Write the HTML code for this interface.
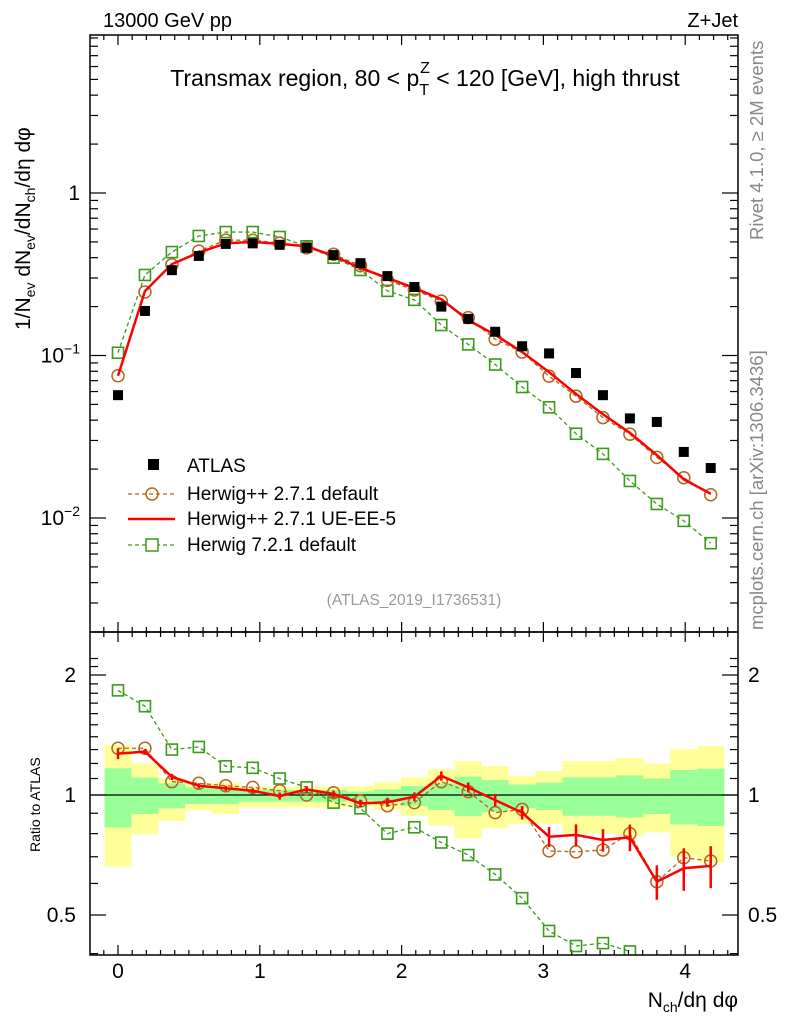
<!DOCTYPE html>
<html><head><meta charset="utf-8"><style>
body{margin:0;background:#fff}
svg text{font-family:"Liberation Sans",sans-serif}
</style></head><body>
<svg id="c" width="786" height="1024" xmlns="http://www.w3.org/2000/svg">
<rect width="786" height="1024" fill="#fff"/>
<g id="bands"></g>
<g id="grid"></g>
<g id="series"></g>
<rect x="90" y="35" width="648" height="597" fill="none" stroke="#000" stroke-width="1.5"/>
<rect x="90" y="632" width="648" height="323" fill="none" stroke="#000" stroke-width="1.5"/>
<text x="103" y="27" font-size="20">13000 GeV pp</text>
<text x="738" y="27" font-size="20" text-anchor="end">Z+Jet</text>
<text x="425" y="86" font-size="23" text-anchor="middle">Transmax region, 80 &lt; p<tspan font-size="16" dy="9">T</tspan><tspan font-size="16" dx="-9" dy="-22">Z</tspan><tspan dy="13"> &lt; 120 [GeV], high thrust</tspan></text>
<text x="414" y="605" font-size="15.5" fill="#999" text-anchor="middle">(ATLAS_2019_I1736531)</text>
<text transform="translate(763,240) rotate(-90)" font-size="18.5" fill="#888">Rivet 4.1.0, ≥ 2M events</text>
<text transform="translate(763,630) rotate(-90)" font-size="18.5" fill="#888">mcplots.cern.ch [arXiv:1306.3436]</text>
<text transform="translate(30,330) rotate(-90)" font-size="21">1/N<tspan font-size="14" dy="5">ev</tspan><tspan dy="-5"> dN</tspan><tspan font-size="14" dy="5">ev</tspan><tspan dy="-5">/dN</tspan><tspan font-size="14" dy="5">ch</tspan><tspan dy="-5">/dη dφ</tspan></text>
<text transform="translate(40,852) rotate(-90)" font-size="14">Ratio to ATLAS</text>
<text x="738" y="1007" font-size="21" text-anchor="end">N<tspan font-size="14" dy="5">ch</tspan><tspan dy="-5">/dη dφ</tspan></text>
<g id="legend">
<rect x="148" y="459" width="11" height="11" fill="#000"/>
<text x="187" y="472" font-size="19">ATLAS</text>
<line x1="128" y1="494" x2="175" y2="494" stroke="#b5651d" stroke-dasharray="4,3" stroke-width="1.3"/>
<circle cx="152" cy="494" r="6" fill="none" stroke="#b5651d" stroke-width="1.5"/>
<text x="187" y="500" font-size="19">Herwig++ 2.7.1 default</text>
<line x1="128" y1="519" x2="175" y2="519" stroke="#f00" stroke-width="2.5"/>
<text x="187" y="525" font-size="19">Herwig++ 2.7.1 UE-EE-5</text>
<line x1="128" y1="545" x2="175" y2="545" stroke="#3a9a1a" stroke-dasharray="4,3" stroke-width="1.3"/>
<rect x="146" y="539" width="12" height="12" fill="#fff" stroke="#3a9a1a" stroke-width="1.5"/>
<text x="187" y="551" font-size="19">Herwig 7.2.1 default</text>
</g>
</svg>
<script>
const xVals=[0,0.19,0.38,0.57,0.76,0.95,1.14,1.33,1.52,1.71,1.90,2.09,2.28,2.47,2.66,2.85,3.04,3.23,3.42,3.61,3.80,3.99,4.18];
const atlas=[0.057,0.188,0.335,0.41,0.486,0.49,0.48,0.46,0.415,0.37,0.308,0.264,0.20,0.168,0.14,0.114,0.103,0.078,0.057,0.041,0.039,0.0255,0.0203];
const hppDef=[0.075,0.246,0.362,0.439,0.513,0.512,0.492,0.46,0.42,0.357,0.29,0.253,0.216,0.171,0.126,0.105,0.0746,0.0562,0.0415,0.0328,0.0236,0.0177,0.0139];
const ueee5=[0.075,0.249,0.365,0.43,0.49,0.50,0.486,0.47,0.41,0.345,0.30,0.26,0.222,0.165,0.134,0.105,0.079,0.058,0.0435,0.0334,0.0244,0.0173,0.0141];
const h7=[0.104,0.313,0.433,0.544,0.575,0.575,0.536,0.47,0.40,0.336,0.25,0.22,0.154,0.117,0.088,0.064,0.048,0.033,0.0248,0.0169,0.0122,0.0096,0.0070];
const rHppDef=[1.31,1.31,1.08,1.07,1.055,1.045,1.025,1.0,1.013,0.966,0.94,0.957,1.08,1.02,0.903,0.92,0.724,0.72,0.728,0.80,0.606,0.696,0.683];
const rUeee5=[1.27,1.285,1.11,1.055,1.04,1.025,0.994,1.033,1.006,0.953,0.959,0.99,1.116,1.045,0.971,0.903,0.786,0.794,0.771,0.783,0.606,0.655,0.664];
const rUeee5Err=[0.04,0.02,0.02,0.015,0.015,0.015,0.02,0.02,0.02,0.02,0.025,0.025,0.03,0.03,0.035,0.035,0.045,0.05,0.05,0.06,0.06,0.08,0.08];
const rH7=[1.83,1.67,1.30,1.32,1.18,1.17,1.10,1.045,0.957,0.926,0.80,0.83,0.76,0.707,0.632,0.551,0.456,0.418,0.425,0.405,null,null,null];
const yelHi=[1.335,1.20,1.10,1.07,1.074,1.05,1.05,1.05,1.05,1.053,1.076,1.107,1.16,1.217,1.182,1.116,1.149,1.217,1.217,1.24,1.20,1.302,1.327];
const yelLo=[0.661,0.797,0.861,0.917,0.896,0.931,0.931,0.931,0.931,0.935,0.917,0.887,0.838,0.779,0.825,0.846,0.846,0.801,0.801,0.79,0.806,0.70,0.677];
const grnHi=[1.167,1.105,1.07,1.045,1.045,1.03,1.03,1.03,1.03,1.02,1.033,1.053,1.07,1.112,1.09,1.063,1.074,1.107,1.107,1.12,1.10,1.155,1.164];
const grnLo=[0.829,0.896,0.926,0.949,0.949,0.962,0.962,0.962,0.962,0.968,0.962,0.938,0.917,0.886,0.908,0.926,0.917,0.887,0.887,0.879,0.896,0.844,0.836];
const xTicks=[0,1,2,3,4];
const NS='http://www.w3.org/2000/svg';
const X=v=>118+v*141.8;
const Y=v=>193-Math.log10(v)*162.5;
const R=v=>795-Math.log2(v)*120;
function mk(t,a,p){const e=document.createElementNS(NS,t);for(const k in a)e.setAttribute(k,a[k]);(p||document.getElementById('series')).appendChild(e);return e;}
const bands=document.getElementById('bands');
xVals.forEach((x,i)=>{
 const x0=X(x)-13.5,w=27.1;
 let e=mk('rect',{x:x0,y:R(yelHi[i]),width:w,height:R(yelLo[i])-R(yelHi[i]),fill:'#ffff99'},bands);
 
 
 e=mk('rect',{x:x0,y:R(grnHi[i]),width:w,height:R(grnLo[i])-R(grnHi[i]),fill:'#99ff99'},bands);
 
 
});
const g=document.getElementById('grid');
mk('line',{x1:90,x2:738,y1:R(1),y2:R(1),stroke:'#000','stroke-width':1.2},g);
for(let k=-2;k<=44;k++){const vv=k/10;const px=X(vv);if(px<91||px>737)continue;const maj=(k%10===0);const L=maj?10:5;
 [[632,632-L],[35,35+L],[955,955-L],[632,632+L]].forEach(p=>mk('line',{x1:px,x2:px,y1:p[0],y2:p[1],stroke:'#000','stroke-width':1.2},g));}
xTicks.forEach(t=>{const e=mk('text',{x:X(t),y:978,'font-size':21,'text-anchor':'middle'},g);e.textContent=t;
 
 });
for(let d=-3;d<=0;d++)for(let m=1;m<10;m++){const v=m*Math.pow(10,d);const py=Y(v);if(py<36||py>631)continue;const L=m==1?16:8;
 mk('line',{x1:90,x2:90+L,y1:py,y2:py,stroke:'#000','stroke-width':1.2},g);mk('line',{x1:738,x2:738-L,y1:py,y2:py,stroke:'#000','stroke-width':1.2},g);}
const t0=mk('text',{x:80,y:Y(1)+7,'font-size':21,'text-anchor':'end'},g);t0.textContent='1';


const t1=mk('text',{x:80,y:Y(0.1)+7,'font-size':21,'text-anchor':'end'},g);t1.innerHTML='10<tspan font-size="14" dy="-9">−1</tspan>';


const t2=mk('text',{x:80,y:Y(0.01)+7,'font-size':21,'text-anchor':'end'},g);t2.innerHTML='10<tspan font-size="14" dy="-9">−2</tspan>';


for(let v=0.4;v<=2.3;v+=0.1){const vv=Math.round(v*10)/10;const py=R(vv);if(py<633||py>954)continue;const L=(vv==0.5||vv==1||vv==2)?16:8;
 mk('line',{x1:90,x2:90+L,y1:py,y2:py,stroke:'#000','stroke-width':1.2},g);mk('line',{x1:738,x2:738-L,y1:py,y2:py,stroke:'#000','stroke-width':1.2},g);}
[2,1,0.5].forEach(v=>{let e=mk('text',{x:76,y:R(v)+7,'font-size':21,'text-anchor':'end'},g);e.textContent=v;
 
 
 e=mk('text',{x:748,y:R(v)+7,'font-size':21},g);e.textContent=v;
 
 });
function poly(vals,f,st,name){const pts=[];vals.forEach((v,i)=>{if(v!=null)pts.push(X(xVals[i])+','+f(v));});
 const e=mk('polyline',Object.assign({points:pts.join(' '),fill:'none'},st));
 
 }
function markers(vals,f,kind,col,name){vals.forEach((v,i)=>{if(v==null)return;const px=X(xVals[i]),py=f(v);let e;
 if(kind=='c')e=mk('circle',{cx:px,cy:py,r:6,fill:'none',stroke:col,'stroke-width':1.5});
 else if(kind=='s')e=mk('rect',{x:px-5.5,y:py-5.5,width:11,height:11,fill:'none',stroke:col,'stroke-width':1.6});
 else e=mk('rect',{x:px-5,y:py-5,width:10,height:10,fill:'#000'});
 
 });}
poly(h7,Y,{stroke:'#3a9a1a','stroke-width':1.3,'stroke-dasharray':'4,3'},'h7-line');
poly(hppDef,Y,{stroke:'#b5651d','stroke-width':1.3,'stroke-dasharray':'4,3'},'hpp-default-line');
markers(h7,Y,'s','#3a9a1a','h7-point');
markers(hppDef,Y,'c','#b5651d','hpp-default-point');
poly(ueee5,Y,{stroke:'#f00','stroke-width':2.5},'ueee5-line');
markers(atlas,Y,'a','#000','atlas-point');
const rs=document.getElementById('series');
const cp=mk('clipPath',{id:'rc'},rs);mk('rect',{x:90,y:632,width:648,height:323},cp);
const rg=mk('g',{'clip-path':'url(#rc)'},rs);


function poly2(vals,st,name){const pts=[];vals.forEach((v,i)=>{if(v!=null)pts.push(X(xVals[i])+','+R(v));});
 const e=mk('polyline',Object.assign({points:pts.join(' '),fill:'none'},st),rg);
 
 }
function markers2(vals,kind,col,name){vals.forEach((v,i)=>{if(v==null)return;const px=X(xVals[i]),py=R(v);let e;
 if(kind=='c')e=mk('circle',{cx:px,cy:py,r:6,fill:'none',stroke:col,'stroke-width':1.5},rg);
 else e=mk('rect',{x:px-5.5,y:py-5.5,width:11,height:11,fill:'none',stroke:col,'stroke-width':1.6},rg);
 
 });}
poly2(rH7,{stroke:'#3a9a1a','stroke-width':1.3,'stroke-dasharray':'4,3'},'ratio-h7-line');
markers2(rH7,'s','#3a9a1a','ratio-h7-point');
poly2(rHppDef,{stroke:'#b5651d','stroke-width':1.3,'stroke-dasharray':'4,3'},'ratio-hpp-default-line');
markers2(rHppDef,'c','#b5651d','ratio-hpp-default-point');
rUeee5.forEach((v,i)=>{const px=X(xVals[i]);const e=mk('line',{x1:px,x2:px,y1:R(v+rUeee5Err[i]),y2:R(v-rUeee5Err[i]),stroke:'#f00','stroke-width':2.5},rg);
 
 });
poly2(rUeee5,{stroke:'#f00','stroke-width':2.5},'ratio-ueee5-line');
</script>
</body></html>
